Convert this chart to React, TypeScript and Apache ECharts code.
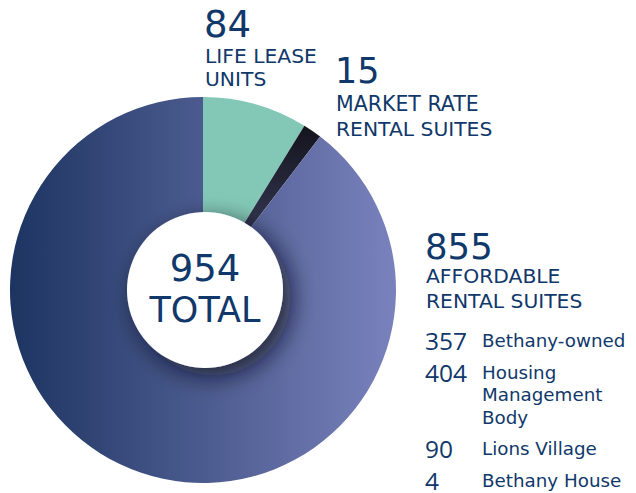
import React, { useEffect, useRef } from "react";
import * as echarts from "echarts";

const sliceNames = ["LIFE LEASE UNITS", "MARKET RATE RENTAL SUITES", "AFFORDABLE RENTAL SUITES"];
const sliceValues = [84, 15, 855];
const totalValue = 954;
const breakdownValues = ["357", "404", "90", "4"];
const breakdownLabels = [["Bethany-owned"], ["Housing", "Management", "Body"], ["Lions Village"], ["Bethany House"]];

const NAVY = "#10386a";
const OPEN = "'Open Sans', sans-serif";
const DEJA = "'DejaVu Sans', sans-serif";

function txt(text: string, x: number, y: number, size: number, family = DEJA, align = "left") {
  return {
    type: "text",
    x,
    y,
    style: {
      text,
      fill: NAVY,
      font: `400 ${size}px ${family}`,
      lineHeight: Math.round(size),
      textAlign: align,
      textVerticalAlign: "middle",
    },
    z: 10,
  };
}

export default function App() {
  const ref = useRef<HTMLDivElement>(null);
  useEffect(() => {
    const chart = echarts.init(ref.current!, undefined, { renderer: "svg" });
    const colors = [
      "#83c8b7",
      new echarts.graphic.LinearGradient(0, 0, 0, 1, [
        { offset: 0, color: "#14141d" },
        { offset: 1, color: "#454a70" },
      ]),
      new echarts.graphic.LinearGradient(0, 0, 1, 0, [
        { offset: 0, color: "#1d3461" },
        { offset: 1, color: "#7a82bd" },
      ]),
    ];
    const graphics: any[] = [
      {
        type: "circle",
        shape: { cx: 205, cy: 290, r: 78 },
        style: { fill: "#ffffff", shadowBlur: 24, shadowColor: "rgba(10,10,30,0.75)", shadowOffsetX: 8, shadowOffsetY: 8 },
        z: 5,
      },
      txt(String(totalValue), 205, 268, 37, DEJA, "center"),
      txt("TOTAL", 205, 310, 35, DEJA, "center"),
      txt(String(sliceValues[0]), 204, 24, 37),
      txt("LIFE LEASE", 205, 56, 20.3),
      txt("UNITS", 205, 79, 20.3),
      txt(String(sliceValues[1]), 335, 71, 35),
      txt("MARKET RATE", 336, 104, 20.5),
      txt("RENTAL SUITES", 336, 129, 20.3),
      txt(String(sliceValues[2]), 425, 246, 35.5),
      txt("AFFORDABLE", 426, 276, 20.3),
      txt("RENTAL SUITES", 426, 301, 20.3),
    ];
    const rowY = [340, 372, 448, 480];
    breakdownValues.forEach((v, i) => {
      graphics.push(txt(v, 425, rowY[i], 24.5, OPEN));
      breakdownLabels[i].forEach((l, j) => {
        graphics.push(txt(l, 482, rowY[i] + j * 22.5, 18.3));
      });
    });
    chart.setOption({
      animation: false,
      series: [
        {
          type: "pie",
          center: [203, 290],
          radius: [0, 193],
          startAngle: 90,
          clockwise: true,
          silent: true,
          label: { show: false },
          labelLine: { show: false },
          data: sliceNames.map((n, i) => ({ name: n, value: sliceValues[i], itemStyle: { color: colors[i] } })),
        },
      ],
      graphic: graphics,
    });
    return () => chart.dispose();
  }, []);
  return <div ref={ref} style={{ position: "fixed", left: 0, top: 0, width: 636, height: 493, background: "#fff" }} />;
}
